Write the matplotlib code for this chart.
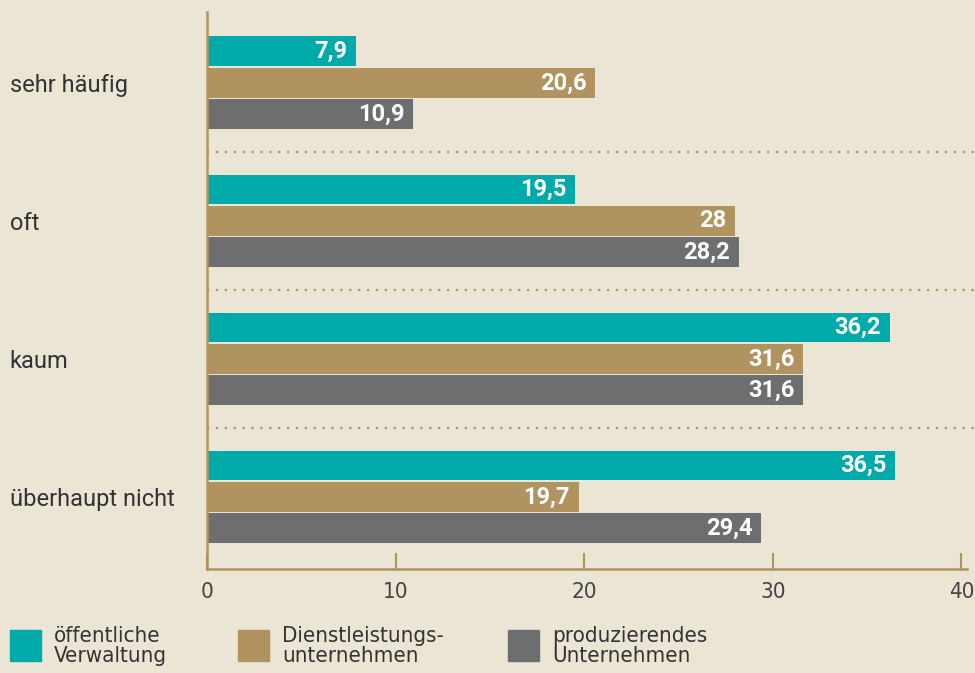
import matplotlib.pyplot as plt
from matplotlib.patches import Rectangle

categories = ["sehr häufig", "oft", "kaum", "überhaupt nicht"]
series_names = ["öffentliche\nVerwaltung", "Dienstleistungs-\nunternehmen", "produzierendes\nUnternehmen"]
verwaltung = [7.9, 19.5, 36.2, 36.5]
dienstleistung = [20.6, 28, 31.6, 19.7]
produzierend = [10.9, 28.2, 31.6, 29.4]
x_ticks = [0, 10, 20, 30, 40]

colors = ["#00aaab", "#b0935e", "#6d6e70"]
bg = "#ebe5d6"
gold = "#b0935e"
narrow = dict(fontfamily="DejaVu Sans", fontstretch="condensed")

plt.rcParams["font.family"] = ["Roboto", "DejaVu Sans"]

fig = plt.figure(figsize=(9.75, 6.73), dpi=100, facecolor=bg)
ax = fig.add_axes([207 / 975, 104 / 673, 760 / 975, 557 / 673])
ax.set_facecolor(bg)

bar_h = 0.217
offset = 0.228
series = [verwaltung, dienstleistung, produzierend]
for k, (vals, col) in enumerate(zip(series, colors)):
    ys = [i + (k - 1) * offset for i in range(len(categories))]
    ax.barh(ys, vals, height=bar_h, color=col, zorder=2)
    for y, v in zip(ys, vals):
        lab = f"{v:g}".replace(".", ",")
        ax.text(v - 0.45, y, lab, ha="right", va="center", color="white",
                fontsize=17, fontweight="bold", zorder=3)

# dotted separators between groups
for i in range(len(categories) - 1):
    ax.axhline(i + 0.5, xmin=0, xmax=1.01, color=gold, lw=1.6,
               linestyle=(0, (1, 3)), clip_on=False, zorder=1)

ax.set_xlim(0, 40.3)
ax.set_ylim(3.522, -0.514)

ax.set_yticks(range(len(categories)))
ax.set_yticklabels(categories, fontsize=17, color="#333333")
for t in ax.get_yticklabels():
    t.set_horizontalalignment("left")
ax.tick_params(axis="y", length=0, pad=142)

ax.set_xticks(x_ticks)
ax.set_xticklabels([str(t) for t in x_ticks], fontsize=16, color="#444444", **narrow)
ax.tick_params(axis="x", direction="in", length=11.5, width=1.5, color=gold, pad=9)

for s in ["top", "right"]:
    ax.spines[s].set_visible(False)
for s in ["left", "bottom"]:
    ax.spines[s].set_color(gold)
    ax.spines[s].set_linewidth(1.8)

# legend at the bottom
leg_x = [10, 238, 508]
for x0, name, col in zip(leg_x, series_names, colors):
    fig.add_artist(Rectangle((x0 / 975, 12 / 673), 31 / 975, 31 / 673,
                             transform=fig.transFigure, color=col))
    fig.text((x0 + 44) / 975, 27 / 673, name, ha="left", va="center",
             fontsize=16, color="#333333", linespacing=1.05, **narrow)

fig.savefig("out.png", dpi=100, facecolor=bg)
